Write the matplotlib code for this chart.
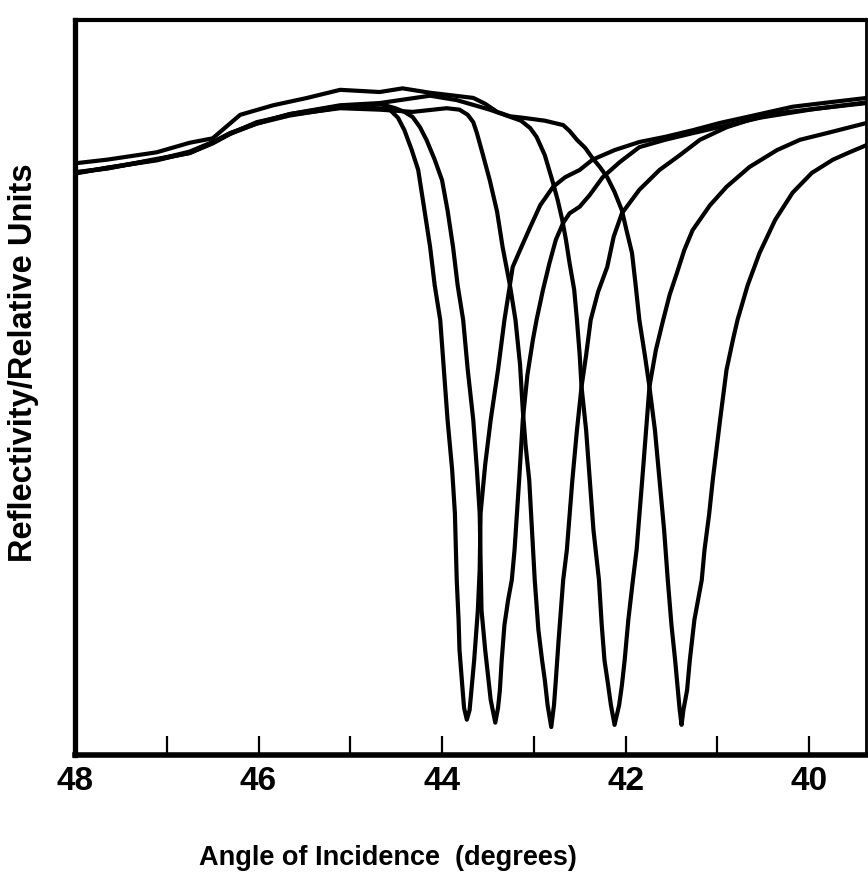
import matplotlib
matplotlib.use("Agg")
import matplotlib.pyplot as plt

# angle of incidence (degrees) and reflectivity (relative units)
d1_angle = [48.00, 47.65, 47.11, 46.75, 46.50, 46.31, 46.02, 45.66, 45.11, 44.68, 44.57, 44.48,
            44.41, 44.33, 44.26, 44.20, 44.13, 44.08, 44.02, 43.98, 43.94, 43.89, 43.86, 43.84,
            43.82, 43.81, 43.78, 43.76, 43.73, 43.70, 43.68, 43.65, 43.63, 43.61, 43.59, 43.58,
            43.53, 43.47, 43.39, 43.32, 43.23, 43.15, 43.04, 42.93, 42.79, 42.66, 42.50, 42.36,
            42.12, 41.85, 41.57, 41.27, 40.97, 40.68, 40.18, 39.78, 39.37]
d1_refl = [79.2, 79.8, 81.0, 81.9, 83.2, 84.5, 85.9, 87.0, 88.1, 88.0, 87.8, 86.7,
           85.0, 82.3, 79.6, 74.8, 69.1, 63.9, 59.2, 52.4, 45.6, 38.8, 32.9, 23.8,
           18.4, 14.3, 9.5, 6.4, 4.8, 6.1, 8.8, 12.9, 16.3, 19.7, 25.2, 32.9,
           39.5, 45.6, 52.4, 59.2, 66.4, 68.7, 71.8, 74.8, 77.3, 78.6, 79.6, 81.0,
           82.3, 83.4, 84.1, 85.0, 86.0, 86.8, 88.2, 88.8, 89.4]

d2_angle = [48.00, 47.65, 47.11, 46.75, 46.50, 46.31, 46.02, 45.66, 45.11, 44.68, 44.51, 44.41,
            44.32, 44.24, 44.17, 44.08, 44.00, 43.94, 43.88, 43.83, 43.77, 43.72, 43.66, 43.62,
            43.59, 43.58, 43.57, 43.53, 43.50, 43.47, 43.42, 43.39, 43.37, 43.35, 43.32, 43.28,
            43.24, 43.21, 43.16, 43.12, 43.07, 43.01, 42.97, 42.90, 42.83, 42.76, 42.68, 42.61,
            42.50, 42.39, 42.25, 42.06, 41.85, 41.57, 41.27, 40.92, 40.54, 39.99, 39.37]
d2_refl = [79.1, 79.9, 80.9, 82.0, 83.3, 84.6, 86.0, 87.2, 88.3, 88.6, 88.0, 87.5,
           86.8, 85.4, 83.7, 81.0, 78.2, 74.1, 69.1, 63.9, 59.2, 52.4, 45.6, 38.8,
           32.9, 26.5, 19.7, 14.3, 10.9, 7.5, 4.4, 6.4, 8.8, 12.9, 17.7, 21.1,
           23.8, 27.9, 37.4, 45.6, 51.7, 56.5, 59.2, 63.3, 66.9, 70.1, 72.4, 73.7,
           74.6, 76.2, 78.6, 80.7, 82.7, 83.7, 84.6, 85.6, 86.7, 87.8, 88.8]

d3_angle = [48.00, 47.65, 47.11, 46.75, 46.50, 46.31, 46.02, 45.66, 45.11, 44.68, 44.32, 43.95,
            43.81, 43.72, 43.66, 43.62, 43.56, 43.48, 43.40, 43.34, 43.26, 43.20, 43.15, 43.12,
            43.09, 43.05, 43.02, 42.99, 42.95, 42.91, 42.88, 42.85, 42.81, 42.78, 42.76, 42.73,
            42.68, 42.64, 42.58, 42.53, 42.48, 42.43, 42.38, 42.30, 42.20, 42.13, 42.04, 41.85,
            41.63, 41.41, 41.19, 40.90, 40.65, 40.35, 39.88, 39.37]
d3_refl = [79.3, 79.8, 81.1, 81.9, 83.3, 84.5, 86.1, 87.1, 88.0, 87.8, 87.5, 88.0,
           87.8, 87.1, 86.1, 84.6, 81.9, 78.2, 73.9, 69.1, 63.9, 59.2, 53.1, 46.9,
           42.2, 37.4, 30.6, 23.8, 17.0, 12.9, 10.2, 6.8, 3.8, 6.8, 10.2, 15.6,
           23.8, 27.9, 37.4, 44.2, 50.1, 54.4, 59.2, 63.0, 66.4, 70.5, 73.7, 76.9,
           79.6, 81.6, 83.7, 85.4, 86.4, 87.3, 88.0, 88.7]

d4_angle = [48.00, 47.65, 47.11, 46.75, 46.50, 46.31, 46.02, 45.66, 45.11, 44.68, 44.13, 43.84,
            43.48, 43.32, 43.14, 43.04, 42.97, 42.88, 42.79, 42.74, 42.69, 42.65, 42.61, 42.56,
            42.53, 42.50, 42.48, 42.43, 42.39, 42.35, 42.29, 42.26, 42.23, 42.19, 42.16, 42.12,
            42.07, 42.04, 42.01, 41.97, 41.92, 41.88, 41.81, 41.74, 41.67, 41.59, 41.52, 41.44,
            41.36, 41.27, 41.08, 40.90, 40.65, 40.35, 40.10, 39.81, 39.37]
d4_refl = [79.2, 79.9, 81.0, 82.1, 83.4, 84.6, 85.9, 87.2, 88.4, 88.7, 89.7, 89.1,
           87.8, 87.1, 86.3, 85.3, 84.1, 81.6, 77.8, 75.5, 72.8, 70.1, 66.9, 63.3,
           59.2, 54.4, 50.1, 44.2, 37.4, 30.6, 23.8, 17.7, 12.9, 9.5, 6.8, 4.1,
           6.8, 9.5, 12.9, 18.4, 23.8, 27.9, 38.8, 50.1, 55.1, 59.2, 62.6, 65.6,
           68.7, 71.4, 74.8, 77.3, 80.0, 82.3, 83.7, 84.6, 86.0]

d5_angle = [48.00, 47.65, 47.11, 46.75, 46.50, 46.20, 45.84, 45.47, 45.11, 44.68, 44.43, 44.13,
            43.66, 43.53, 43.40, 43.26, 43.12, 42.88, 42.68, 42.61, 42.53, 42.44, 42.36, 42.28,
            42.20, 42.12, 42.04, 41.99, 41.93, 41.89, 41.85, 41.79, 41.74, 41.68, 41.63, 41.58,
            41.54, 41.50, 41.46, 41.43, 41.41, 41.39, 41.37, 41.33, 41.30, 41.25, 41.17, 41.14,
            41.09, 41.05, 40.97, 40.90, 40.83, 40.78, 40.67, 40.54, 40.37, 40.18, 39.97, 39.74,
            39.56, 39.37]
d5_refl = [80.5, 81.0, 82.0, 83.3, 83.9, 87.1, 88.4, 89.4, 90.5, 90.2, 90.7, 90.1,
           89.4, 88.6, 87.5, 86.9, 86.7, 86.3, 85.7, 84.9, 83.7, 82.6, 81.2, 80.0,
           78.6, 76.6, 74.1, 71.4, 68.3, 63.9, 59.2, 54.4, 50.1, 44.2, 37.4, 30.6,
           23.8, 17.7, 12.9, 8.8, 6.1, 4.1, 6.1, 8.8, 12.9, 18.4, 23.8, 27.9,
           32.7, 37.4, 45.6, 52.4, 56.5, 59.2, 63.9, 68.3, 72.8, 76.5, 79.2, 81.0,
           82.0, 83.0]

curves = [(d1_angle, d1_refl), (d2_angle, d2_refl), (d3_angle, d3_refl),
          (d4_angle, d4_refl), (d5_angle, d5_refl)]

major_ticks = [48, 46, 44, 42, 40]
minor_ticks = [47, 45, 43, 41]

fig = plt.figure(figsize=(8.68, 8.72), dpi=100)
ax = fig.add_axes([75 / 868, 1 - 755 / 872, 791 / 868, 735 / 872])

for ang, refl in curves:
    ax.plot(ang, refl, color="black", lw=3.0, solid_joinstyle="round")

ax.set_xlim(48, 39.38)
ax.set_ylim(0, 100)

ax.set_xticks(major_ticks)
ax.set_xticks(minor_ticks, minor=True)
ax.set_xticklabels([str(t) for t in major_ticks])
ax.set_yticks([])
ax.tick_params(axis="x", which="both", direction="in", length=14, width=1.6,
               pad=8, labelsize=24, top=False)
for lab in ax.get_xticklabels():
    lab.set_fontweight("bold")
    lab.set_family("Liberation Sans")

ax.spines["left"].set_linewidth(3.8)
ax.spines["bottom"].set_linewidth(4.0)
ax.spines["top"].set_linewidth(3.0)
ax.spines["right"].set_linewidth(2.0)

fig.text(388 / 868, 1 - 858 / 872, "Angle of Incidence  (degrees)", ha="center",
         va="center", fontsize=19.5, fontweight="bold", family="Liberation Sans")
fig.text(24 / 868, 1 - 363 / 872, "Reflectivity/Relative Units", ha="center",
         va="center", rotation=90, fontsize=23.5, fontweight="bold",
         family="Liberation Sans")

fig.savefig("out.png", dpi=100)
